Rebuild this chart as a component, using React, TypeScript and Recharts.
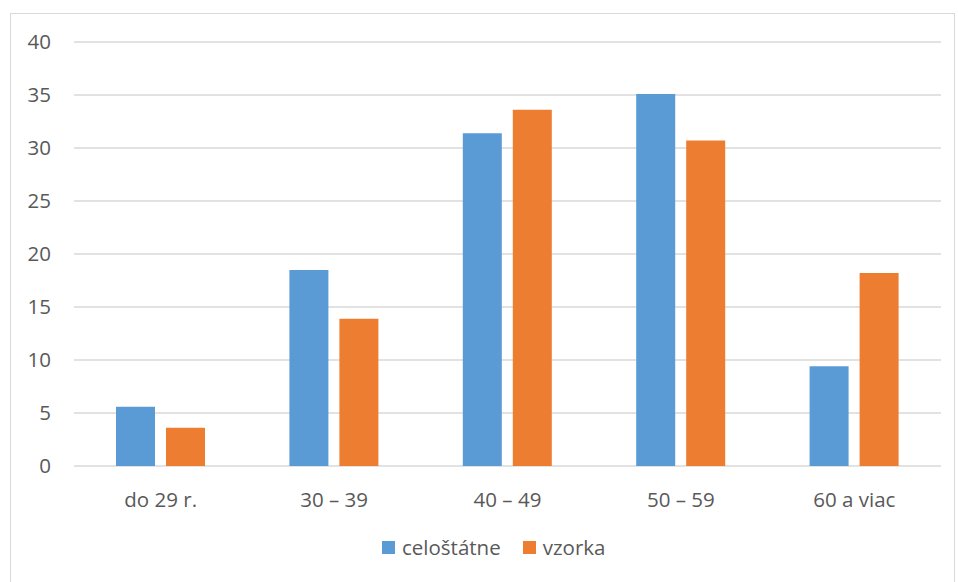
import React from "react"
import { BarChart, Bar, XAxis, YAxis, CartesianGrid } from "recharts"

const CATEGORIES = ["do 29 r.", "30 – 39", "40 – 49", "50 – 59", "60 a viac"]
const CELOSTATNE = [5.6, 18.5, 31.4, 35.1, 9.4]
const VZORKA = [3.6, 13.9, 33.6, 30.7, 18.2]
const Y_TICKS = [0, 5, 10, 15, 20, 25, 30, 35, 40]

const BLUE = "#5b9bd5"
const ORANGE = "#ed7d31"
const TEXT = "#595959"
const FONT = "'Open Sans', sans-serif"

const data = CATEGORIES.map((name, i) => ({
  name,
  celostatne: CELOSTATNE[i],
  vzorka: VZORKA[i],
}))

const tickStyle = { fill: TEXT, fontSize: 20.5, fontFamily: FONT }

function LegendItem({ color, label }: { color: string; label: string }) {
  return (
    <div style={{ display: "flex", alignItems: "center", gap: 7 }}>
      <span style={{ width: 13, height: 13, background: color, display: "inline-block" }} />
      <span>{label}</span>
    </div>
  )
}

export default function App() {
  return (
    <div style={{ position: "absolute", left: 0, top: 0, width: 958, height: 582, background: "#fff", overflow: "hidden" }}>
      <div
        style={{
          position: "absolute",
          left: 10,
          top: 13,
          width: 945,
          height: 600,
          border: "1px solid #d9d9d9",
          boxSizing: "border-box",
        }}
      />
      <div style={{ position: "absolute", left: 0, top: 0 }}>
        <BarChart
          width={958}
          height={582}
          data={data}
          margin={{ top: 42, right: 17, bottom: 0, left: 0 }}
          barCategoryGap={42}
          barGap={11}
        >
          <CartesianGrid vertical={false} stroke="#d9d9d9" strokeWidth={1.5} />
          <XAxis
            dataKey="name"
            height={116}
            axisLine={false}
            tickLine={false}
            tickSize={0}
            tickMargin={26}
            tick={tickStyle}
            interval={0}
          />
          <YAxis
            width={74}
            domain={[0, 40]}
            ticks={Y_TICKS}
            axisLine={false}
            tickLine={false}
            tickSize={0}
            tickMargin={23}
            tick={tickStyle}
          />
          <Bar dataKey="celostatne" name="celoštátne" fill={BLUE} barSize={39} isAnimationActive={false} />
          <Bar dataKey="vzorka" name="vzorka" fill={ORANGE} barSize={39} isAnimationActive={false} />
        </BarChart>
      </div>
      <div
        style={{
          position: "absolute",
          left: 382,
          top: 533,
          display: "flex",
          gap: 22,
          color: TEXT,
          fontSize: 20.5,
          fontFamily: FONT,
        }}
      >
        <LegendItem color={BLUE} label="celoštátne" />
        <LegendItem color={ORANGE} label="vzorka" />
      </div>
    </div>
  )
}
